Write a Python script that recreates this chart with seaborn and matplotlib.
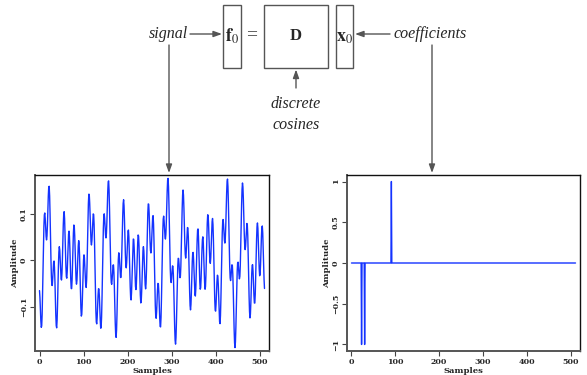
import numpy as np
import pandas as pd
import matplotlib
matplotlib.use("Agg")
import matplotlib.pyplot as plt
from matplotlib.patches import Rectangle
import seaborn as sns

# ---- data ----
N_SAMPLES = 512
COEF_POS = [23, 30, 91]          # sample positions (0-based) of non-zero coefficients
COEF_VAL = [-1.0, -1.0, 1.0]     # their amplitudes
X_TICKS = [0, 100, 200, 300, 400, 500]
SIG_YTICKS = [-0.1, 0.0, 0.1]
SIG_YTICKLABELS = ["\u22120.1", "0", "0.1"]
COEF_YTICKS = [-1, -0.5, 0, 0.5, 1]
COEF_YTICKLABELS = ["\u22121", "\u22120.5", "0", "0.5", "1"]

# coefficient vector x0 and signal f0 = D x0 (D = orthonormal discrete cosines)
samples = np.arange(N_SAMPLES)
x0 = np.zeros(N_SAMPLES)
for p, v in zip(COEF_POS, COEF_VAL):
    x0[p] = v
n = np.arange(N_SAMPLES)[:, None]
k = np.arange(N_SAMPLES)[None, :]
D = np.sqrt(2.0 / N_SAMPLES) * np.cos(np.pi * k * (2 * n + 1) / (2 * N_SAMPLES))
D[:, 0] = np.sqrt(1.0 / N_SAMPLES)
f0 = D @ x0

sig_df = pd.DataFrame({"Samples": samples, "Amplitude": f0})
coef_df = pd.DataFrame({"Samples": samples, "Amplitude": x0})

sns.set_style("white")
plt.rcParams["mathtext.fontset"] = "stix"

W, H = 587, 375
fig = plt.figure(figsize=(W / 100, H / 100), dpi=100)

BLUE = "#1433ff"
TICKFONT = dict(family="DejaVu Serif", weight="bold", size=5.7)
LABFONT = dict(family="DejaVu Serif", weight="bold", size=6)


def style_axes(ax, yticks, yticklabels):
    ax.set_xticks(X_TICKS)
    ax.set_xticklabels([str(t) for t in X_TICKS], fontdict=TICKFONT)
    ax.set_yticks(yticks)
    ax.set_yticklabels(yticklabels, fontdict=TICKFONT, rotation=90, va="center")
    ax.tick_params(axis="both", direction="out", length=3.5, width=0.8,
                   color="#444444", pad=1.5, bottom=True, left=True)
    ax.set_xlabel("Samples", fontdict=LABFONT, labelpad=0.5)
    ax.set_ylabel("Amplitude", fontdict=LABFONT, labelpad=1)
    for name, s in ax.spines.items():
        if name in ("left", "bottom"):
            s.set_color("#555555")
            s.set_linewidth(1.4)
        else:
            s.set_color("#111111")
            s.set_linewidth(1.0)


# left panel: signal
ax1 = fig.add_axes([35 / W, 1 - 351 / H, 234 / W, 176 / H])
sns.lineplot(data=sig_df, x="Samples", y="Amplitude", ax=ax1, color=BLUE,
             linewidth=1.0, estimator=None)
ax1.margins(x=0.02, y=0.02)
style_axes(ax1, SIG_YTICKS, SIG_YTICKLABELS)

# right panel: coefficients
ax2 = fig.add_axes([347 / W, 1 - 351 / H, 233 / W, 176 / H])
sns.lineplot(data=coef_df, x="Samples", y="Amplitude", ax=ax2, color=BLUE,
             linewidth=1.0, estimator=None)
ax2.margins(x=0.02, y=0.04)
style_axes(ax2, COEF_YTICKS, COEF_YTICKLABELS)

# ---- diagram on top ----
ov = fig.add_axes([0, 0, 1, 1], zorder=-1)
ov.set_xlim(0, W)
ov.set_ylim(H, 0)
ov.axis("off")

GRAY = "#555555"
for (x0b, x1b) in [(223.3, 240.7), (264.3, 328.3), (335.7, 353.3)]:
    ov.add_patch(Rectangle((x0b, 5), x1b - x0b, 63.3, fill=False,
                           edgecolor=GRAY, linewidth=1.0))

serif = "Liberation Serif"
ov.text(232, 36, r"$\mathbf{f}_0$", ha="center", va="center", fontsize=13)
ov.text(252, 35, "=", ha="center", va="center", fontsize=14, family=serif,
        color="#333333")
ov.text(296, 36, "D", ha="center", va="center", fontsize=12, family=serif,
        weight="bold")
ov.text(345, 37, r"$\mathbf{x}_0$", ha="center", va="center", fontsize=13)

ov.text(168, 34, "signal", ha="center", va="center", fontsize=11.5,
        family=serif, style="italic")
ov.text(430.5, 34, "coefficients", ha="center", va="center", fontsize=11.5,
        family=serif, style="italic")
ov.text(296, 104, "discrete", ha="center", va="center", fontsize=11.5,
        family=serif, style="italic")
ov.text(296, 125, "cosines", ha="center", va="center", fontsize=11.5,
        family=serif, style="italic")

arrow = dict(arrowstyle="-|>,head_length=0.5,head_width=0.18", color=GRAY,
             lw=1.0, shrinkA=0, shrinkB=0)
ov.annotate("", xy=(222, 34), xytext=(190, 34), arrowprops=arrow)
ov.annotate("", xy=(355, 34), xytext=(390, 34), arrowprops=arrow)
ov.annotate("", xy=(296, 69.5), xytext=(296, 88), arrowprops=arrow)
ov.annotate("", xy=(169, 173), xytext=(169, 45), arrowprops=arrow)
ov.annotate("", xy=(432, 173), xytext=(432, 45), arrowprops=arrow)

fig.savefig("out.png", dpi=100)
